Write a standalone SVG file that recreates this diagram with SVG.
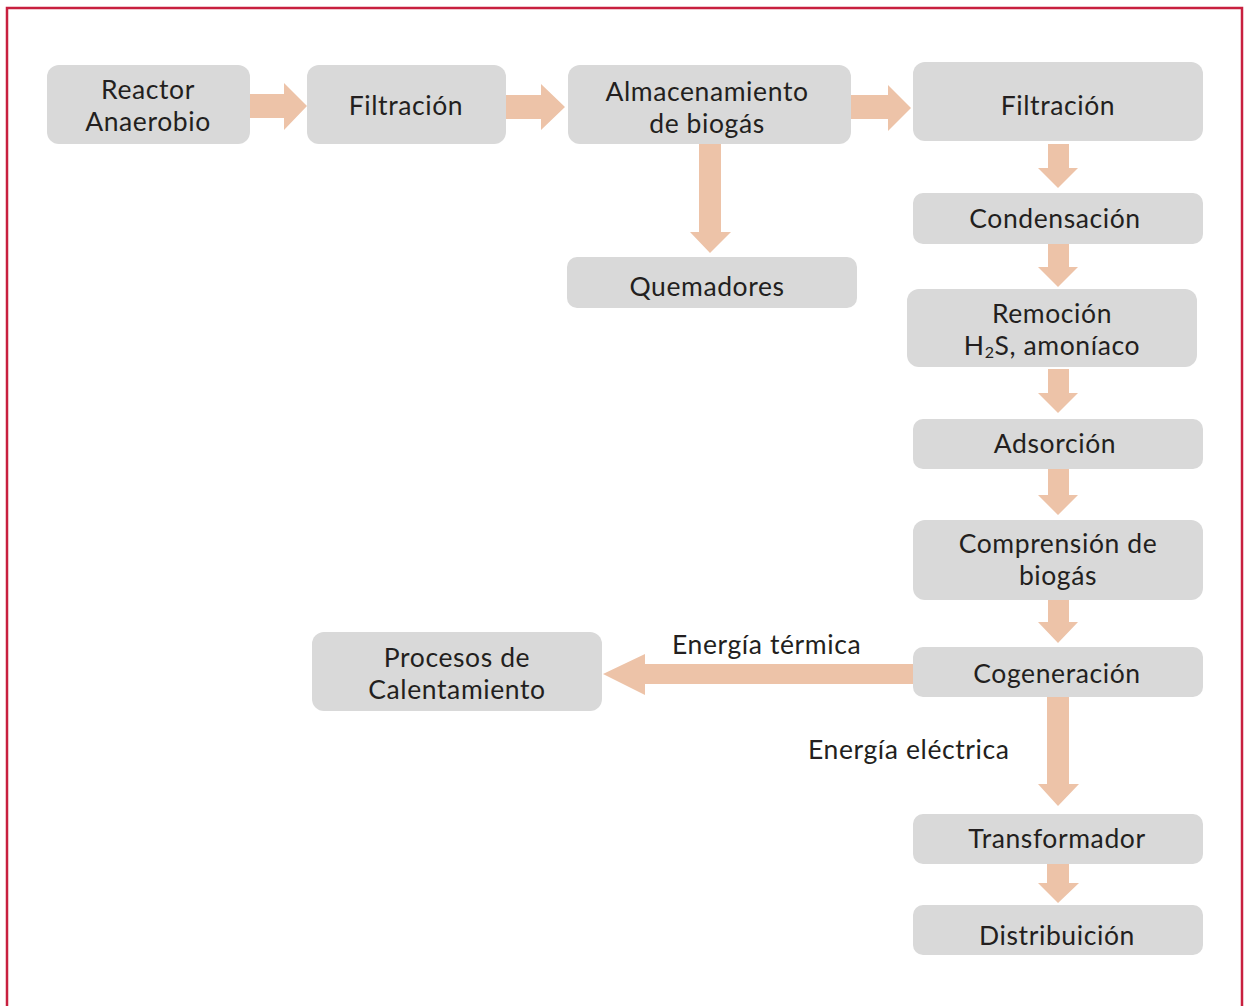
<svg xmlns="http://www.w3.org/2000/svg" width="1246" height="1006" viewBox="0 0 1246 1006">
<style>
.box{fill:#d9d9d9}
.arr{fill:#edc3a8}
text{font-family:Lato,"Open Sans","Noto Sans",sans-serif;font-size:26.5px;letter-spacing:0.6px;fill:#231f20;text-anchor:middle}
.lbl{text-anchor:start}
</style>
<rect x="0" y="0" width="1246" height="1006" fill="#ffffff"/>
<path d="M7,1010 V8 H1242 V1010" fill="none" stroke="#c8203f" stroke-width="2.5"/>
<g id="connectors">
<polygon class="arr" points="248,94 284,94 284,83 307,106 284,130 284,118 248,118"/>
<polygon class="arr" points="506,95 541,95 541,84 565,107 541,130 541,119 506,119"/>
<polygon class="arr" points="851,95 888,95 888,85 911,108 888,131 888,119 851,119"/>
<polygon class="arr" points="699,144 721,144 721,232 731,232 710,253 690,232 699,232"/>
<polygon class="arr" points="1048,144 1069,144 1069,168 1078,168 1058,188 1038,168 1048,168"/>
<polygon class="arr" points="1048,244 1069,244 1069,267 1078,267 1058,287 1038,267 1048,267"/>
<polygon class="arr" points="1048,369 1069,369 1069,393 1078,393 1058,413 1038,393 1048,393"/>
<polygon class="arr" points="1048,469 1069,469 1069,495 1078,495 1058,515 1038,495 1048,495"/>
<polygon class="arr" points="1048,600 1069,600 1069,622 1078,622 1058,643 1038,622 1048,622"/>
<polygon class="arr" points="1047,697 1069,697 1069,784 1079,784 1058,806 1038,784 1047,784"/>
<polygon class="arr" points="1047,862 1069,862 1069,883 1079,883 1058,903 1038,883 1047,883"/>
<polygon class="arr" points="913,664 645,664 645,654 603,674 645,695 645,684 913,684"/>
<text class="lbl" x="672" y="654">Energía térmica</text>
<text class="lbl" x="808" y="759">Energía eléctrica</text>
</g>
<g id="n1"><rect class="box" x="47" y="65" width="203" height="79" rx="12"/><text x="148" y="99">Reactor</text><text x="148" y="131">Anaerobio</text></g>
<g id="n2"><rect class="box" x="307" y="65" width="199" height="79" rx="12"/><text x="406" y="115">Filtración</text></g>
<g id="n3"><rect class="box" x="568" y="65" width="283" height="79" rx="12"/><text x="707" y="101">Almacenamiento</text><text x="707" y="133">de biogás</text></g>
<g id="n4"><rect class="box" x="913" y="62" width="290" height="79" rx="12"/><text x="1058" y="115">Filtración</text></g>
<g id="n5"><rect class="box" x="567" y="257" width="290" height="51" rx="10"/><text x="707" y="296">Quemadores</text></g>
<g id="n6"><rect class="box" x="913" y="193" width="290" height="51" rx="10"/><text x="1055" y="228">Condensación</text></g>
<g id="n7"><rect class="box" x="907" y="289" width="290" height="78" rx="12"/><text x="1052" y="323">Remoción</text><text x="1052" y="355">H<tspan font-size="16" dy="3">2</tspan><tspan dy="-3">S, amoníaco</tspan></text></g>
<g id="n8"><rect class="box" x="913" y="419" width="290" height="50" rx="10"/><text x="1055" y="453">Adsorción</text></g>
<g id="n9"><rect class="box" x="913" y="520" width="290" height="80" rx="12"/><text x="1058" y="553">Comprensión de</text><text x="1058" y="585">biogás</text></g>
<g id="n10"><rect class="box" x="913" y="647" width="290" height="50" rx="10"/><text x="1057" y="683">Cogeneración</text></g>
<g id="n11"><rect class="box" x="312" y="632" width="290" height="79" rx="12"/><text x="457" y="667">Procesos de</text><text x="457" y="699">Calentamiento</text></g>
<g id="n12"><rect class="box" x="913" y="814" width="290" height="50" rx="10"/><text x="1057" y="848">Transformador</text></g>
<g id="n13"><rect class="box" x="913" y="905" width="290" height="50" rx="10"/><text x="1057" y="945">Distribuición</text></g>
</svg>
